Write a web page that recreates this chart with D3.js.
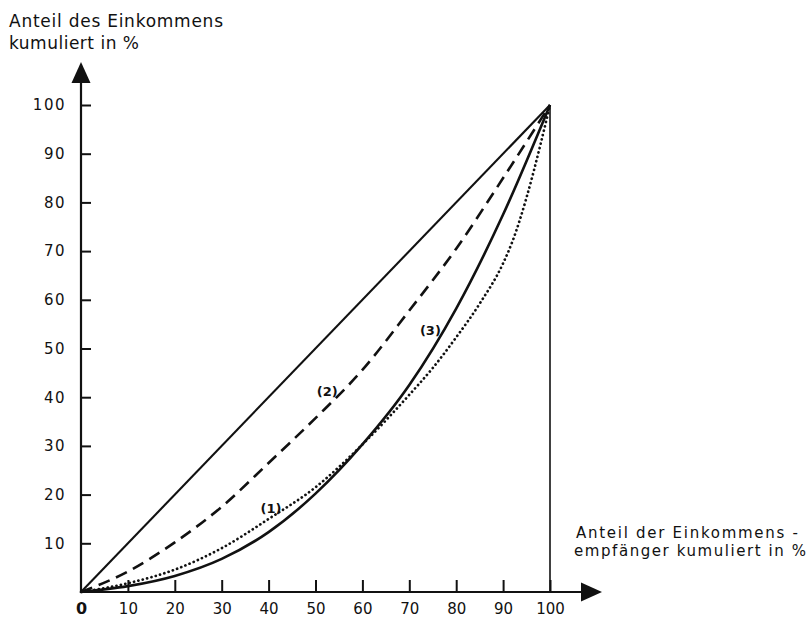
<!DOCTYPE html>
<html>
<head>
<meta charset="utf-8">
<script src="https://cdn.jsdelivr.net/npm/d3@7"></script>
<style>
  html, body { margin: 0; padding: 0; background: #fff; }
  svg { display: block; }
  text { font-family: "DejaVu Sans", "Liberation Sans", sans-serif; fill: #111; }
</style>
</head>
<body>
<svg id="chart" width="812" height="619"></svg>
<script>
// ---- data ----
const titleLines = ["Anteil des Einkommens", "kumuliert in %"];
const xTitleLines = ["Anteil der Einkommens -", "empfänger kumuliert in %"];
const xTicks = [0, 10, 20, 30, 40, 50, 60, 70, 80, 90, 100];
const yTicks = [10, 20, 30, 40, 50, 60, 70, 80, 90, 100];

// (1) dotted curve
const curve1X = [0, 10, 20, 30, 40, 50, 60, 70, 75, 80, 85, 90, 92, 95, 98, 100];
const curve1Y = [0, 1.8, 4.6, 9, 15, 21.5, 30.3, 40.5, 46, 52.3, 59.2, 67.5, 72, 81, 92, 100];
// (2) dashed curve
const curve2X = [0, 10, 20, 30, 40, 50, 60, 70, 80, 90, 100];
const curve2Y = [0, 4.2, 10.2, 17.5, 26.5, 35.7, 45.6, 57.8, 70.5, 85, 100];
// (3) solid curve
const curve3X = [0, 10, 20, 30, 40, 50, 60, 70, 80, 90, 100];
const curve3Y = [0, 1.2, 3.3, 6.8, 12.3, 20.2, 30.3, 42.5, 58.2, 77.5, 100];
// line of equal distribution
const equalX = [0, 100];
const equalY = [0, 100];

const curveLabels = ["(1)", "(2)", "(3)"];
const curveLabelPos = [[40.5, 17], [52.5, 41], [74.5, 53.5]];

// ---- drawing ----
const svg = d3.select("#chart");
const x = d3.scaleLinear().domain([0, 100]).range([81, 550]);
const y = d3.scaleLinear().domain([0, 100]).range([592, 105]);
const ink = "#111";

const zip = (xs, ys) => xs.map((v, i) => [v, ys[i]]);
const line = d3.line().x(d => x(d[0])).y(d => y(d[1])).curve(d3.curveMonotoneX);

// y axis
const yAxis = d3.axisLeft(y).tickValues(yTicks).tickSizeInner(-10).tickSizeOuter(0).tickPadding(15)
  .tickFormat(d3.format("d"));
const gy = svg.append("g").attr("transform", `translate(${x(0)},0)`).call(yAxis);
gy.select(".domain").remove();
gy.selectAll(".tick line").attr("stroke", ink).attr("stroke-width", 2);
gy.selectAll(".tick text").attr("font-size", 15).attr("letter-spacing", 1.5).attr("fill", ink)
  .attr("font-family", "DejaVu Sans, sans-serif");

// x axis
const xAxis = d3.axisBottom(x).tickValues(xTicks).tickSizeInner(-12).tickSizeOuter(0).tickPadding(11)
  .tickFormat(d3.format("d"));
const gx = svg.append("g").attr("transform", `translate(0,${y(0)})`).call(xAxis);
gx.select(".domain").remove();
gx.selectAll(".tick line").attr("stroke", ink).attr("stroke-width", 2)
  .filter(d => d === 0).remove();
gx.selectAll(".tick text").attr("font-size", 15).attr("fill", ink)
  .attr("font-family", "DejaVu Sans, sans-serif");
gx.selectAll(".tick text").filter(d => d === 0).attr("font-size", 16).attr("font-weight", "bold");

// axis lines with arrows
svg.append("line").attr("x1", x(0)).attr("x2", x(0)).attr("y1", y(0) + 1).attr("y2", 80)
  .attr("stroke", ink).attr("stroke-width", 2.2);
svg.append("path").attr("d", `M${x(0)},62 L${x(0) - 9.5},83 L${x(0) + 9.5},83 Z`).attr("fill", ink);
svg.append("line").attr("x1", x(0) - 1).attr("x2", 584).attr("y1", y(0)).attr("y2", y(0))
  .attr("stroke", ink).attr("stroke-width", 2.2);
svg.append("path").attr("d", `M602,${y(0)} L581,${y(0) - 9.5} L581,${y(0) + 9.5} Z`).attr("fill", ink);

// vertical line at 100
svg.append("line").attr("x1", x(100)).attr("x2", x(100)).attr("y1", y(0)).attr("y2", y(100))
  .attr("stroke", ink).attr("stroke-width", 1.6);

// equal distribution
svg.append("path").datum(zip(equalX, equalY)).attr("d", line)
  .attr("fill", "none").attr("stroke", ink).attr("stroke-width", 2.1);
// (2) dashed
svg.append("path").datum(zip(curve2X, curve2Y)).attr("d", line)
  .attr("fill", "none").attr("stroke", ink).attr("stroke-width", 2.6)
  .attr("stroke-dasharray", "12,7");
// (1) dotted
svg.append("path").datum(zip(curve1X, curve1Y)).attr("d", line)
  .attr("fill", "none").attr("stroke", ink).attr("stroke-width", 2.7)
  .attr("stroke-linecap", "round").attr("stroke-dasharray", "0.1,4.4");
// (3) solid
svg.append("path").datum(zip(curve3X, curve3Y)).attr("d", line)
  .attr("fill", "none").attr("stroke", ink).attr("stroke-width", 2.6);

// curve labels
svg.selectAll("text.clabel").data(curveLabels).enter().append("text")
  .attr("class", "clabel")
  .attr("x", (d, i) => x(curveLabelPos[i][0]))
  .attr("y", (d, i) => y(curveLabelPos[i][1]))
  .attr("text-anchor", "middle").attr("dominant-baseline", "middle")
  .attr("font-size", 13).attr("font-weight", "600")
  .text(d => d);

// titles
svg.selectAll("text.ytitle").data(titleLines).enter().append("text")
  .attr("class", "ytitle")
  .attr("x", 9).attr("y", (d, i) => 27 + i * 21.5)
  .attr("font-size", 17)
  .attr("textLength", (d, i) => i === 0 ? 214 : 130).attr("lengthAdjust", "spacing")
  .text(d => d);

svg.selectAll("text.xtitle").data(xTitleLines).enter().append("text")
  .attr("class", "xtitle")
  .attr("x", (d, i) => i === 0 ? 576 : 574).attr("y", (d, i) => 538 + i * 18)
  .attr("font-size", 15)
  .attr("textLength", (d, i) => i === 0 ? 222 : 232).attr("lengthAdjust", "spacing")
  .text(d => d);
</script>
</body>
</html>
